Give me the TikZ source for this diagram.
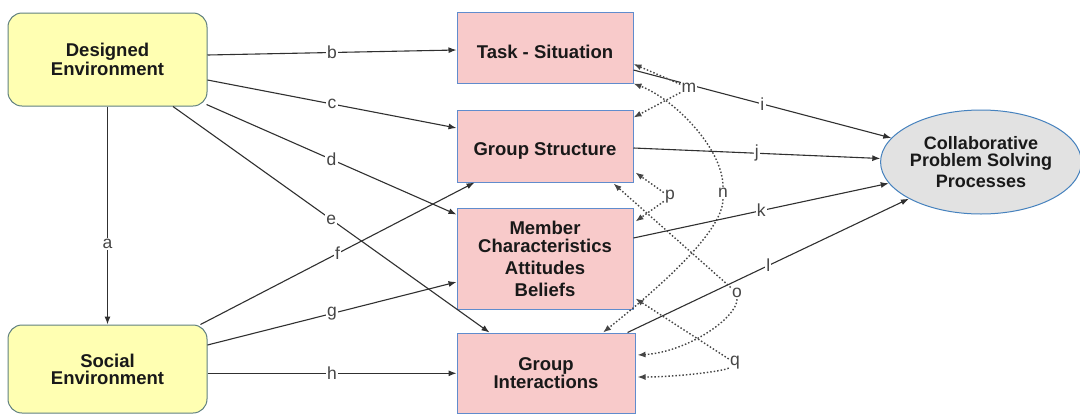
\documentclass[tikz,border=0pt]{standalone}
\usepackage{fontspec}
\setmainfont{Liberation Sans}
\usetikzlibrary{arrows.meta,calc,shapes.geometric}
\definecolor{envfill}{RGB}{255,255,178}
\definecolor{envdraw}{RGB}{96,128,128}
\definecolor{boxfill}{RGB}{248,202,202}
\definecolor{boxdraw}{RGB}{96,140,205}
\definecolor{ellfill}{RGB}{226,226,226}
\definecolor{elldraw}{RGB}{70,130,190}
\definecolor{linec}{RGB}{48,48,48}
\definecolor{labc}{RGB}{70,70,70}
\definecolor{txtc}{RGB}{25,25,25}
\begin{document}
\begin{tikzpicture}[x=1pt,y=-1pt,
  env/.style={draw=envdraw,fill=envfill,rounded corners=14pt,line width=1pt,
    minimum width=199pt,align=center,inner sep=0pt,text=txtc,
    font=\fontsize{18.5}{17}\selectfont\bfseries},
  pbox/.style={draw=boxdraw,fill=boxfill,line width=1pt,minimum width=176pt,
    align=center,inner sep=0pt,text=txtc,
    font=\fontsize{18.5}{18}\selectfont\bfseries},
  ell/.style={ellipse,draw=elldraw,fill=ellfill,line width=1pt,minimum width=196pt,
    minimum height=104pt,inner sep=0pt,align=center,text=txtc,
    font=\fontsize{18}{17}\selectfont\bfseries},
  arr/.style={draw=linec,line width=1.1pt,-{Latex[length=8pt,width=6pt]}},
  dotarr/.style={draw=linec!90,line width=1.4pt,dash pattern=on 1.5pt off 2pt,
    -{Latex[length=8pt,width=6pt]}},
  lab/.style={fill=white,inner sep=1.2pt,text=labc,font=\fontsize{17.5}{17}\selectfont}]
\useasboundingbox (0,0) rectangle (1080,416);
\fill[white] (0,0) rectangle (1080,416);

% nodes
\node[env,minimum height=93pt] (de) at (107.5,59.5) {Designed\\Environment};
\node[env,minimum height=88pt] (se) at (107.5,369) {Social\\Environment};
\node[pbox,minimum height=71pt,text height=21pt,text depth=0pt] (task) at (545,47.5) {Task - Situation};
\node[pbox,minimum height=72pt,text height=21pt,text depth=3pt] (gs) at (545,146) {Group Structure};
\node[pbox,minimum height=101pt] (mc) at (545,258.5) {Member\\Characteristics\\[4pt]Attitudes\\[4pt]Beliefs};
\node[pbox,minimum width=178pt,minimum height=80pt] (gi) at (546,373) {Group\\Interactions};
\node[ell] (cps) at (981,162) {Collaborative\\Problem Solving\\[4pt]Processes};

% solid connectors
\draw[arr] (de.south) -- node[lab,pos=0.63]{a} (se.north);
\draw[arr] ($(de.east)+(0,-4.5)$) -- node[lab]{b} ($(task.west)+(0,2.5)$);
\draw[arr] ($(de.east)+(0,20.5)$) -- node[lab]{c} ($(gs.west)+(0,-18)$);
\draw[arr] ($(de.south east)+(-1,-2)$) -- node[lab]{d} ($(mc.north west)+(0,7)$);
\draw[arr] ($(de.south)+(65.5,0)$) -- node[lab]{e} ($(gi.north west)+(33,0)$);
\draw[arr] ($(se.north east)+(-7,0)$) -- node[lab]{f} ($(gs.south west)+(18,0)$);
\draw[arr] ($(se.east)+(0,-24)$) -- node[lab]{g} ($(mc.west)+(0,23.5)$);
\draw[arr] ($(se.east)+(0,4.3)$) -- node[lab]{h} ($(gi.west)+(0,0.3)$);
\draw[arr] ($(task.east)+(0,22.5)$) -- node[lab]{i} (cps.165);
\draw[arr] ($(gs.east)+(0,2)$) -- node[lab]{j} (cps.178);
\draw[arr] ($(mc.east)+(0,-20.5)$) -- node[lab]{k} (cps.193);
\draw[arr] ($(gi.north east)+(-8,0)$) -- node[lab]{l} (cps.207);

% dotted feedback labels
\node[lab] (m) at (689,88) {m};
\node[lab] (n) at (723,193) {n};
\node[lab] (p) at (670,197) {p};
\node[lab] (o) at (737,293) {o};
\node[lab] (q) at (735,363) {q};

% dotted connectors
\draw[dotarr] (m) -- ($(task.east)+(0,16.5)$);
\draw[dotarr] (m) -- ($(gs.north east)+(0,8)$);
\draw[dotarr] (n) .. controls +(0,-45) and +(40,15) .. (task.south east);
\draw[dotarr] (n) .. controls +(0,40) and +(50,-40) .. ($(gi.north)+(57,0)$);
\draw[dotarr] (p) -- ($(gs.south east)+(2,-10)$);
\draw[dotarr] (p) -- ($(mc.north east)+(2,14)$);
\draw[dotarr] (o) -- ($(gs.south east)+(-20,1)$);
\draw[dotarr] (o) .. controls +(0,25) and +(50,-3) .. ($(gi.east)+(2,-18)$);
\draw[dotarr] (q) -- ($(mc.south east)+(2,-11)$);
\draw[dotarr] (q) .. controls +(-10,8) and +(40,0) .. ($(gi.east)+(2,4)$);
\end{tikzpicture}
\end{document}
